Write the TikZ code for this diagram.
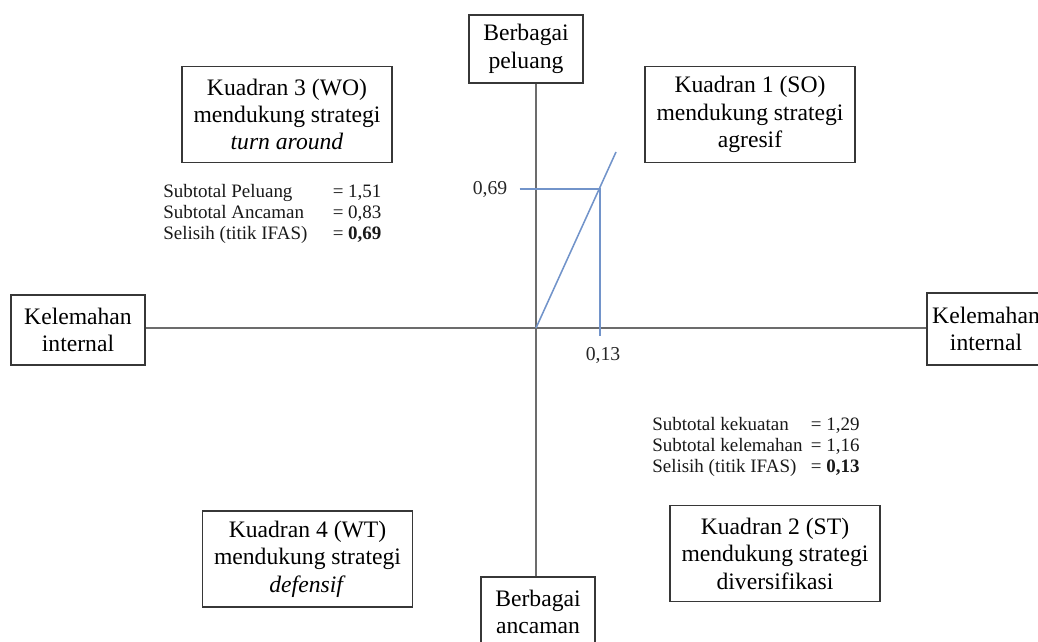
\documentclass[tikz,border=0pt]{standalone}
\usepackage{fontspec}
\setmainfont{Liberation Serif}
\usepackage{tikz}
\usetikzlibrary{positioning}
\definecolor{garisabu}{RGB}{108,108,108}
\definecolor{biru}{RGB}{114,148,202}
\definecolor{tepi}{RGB}{55,55,55}

\tikzset{
  kotak/.style={draw=tepi, line width=1.2pt, align=center, fill=white, inner sep=2pt,
    font=\fontsize{16.8}{19.5}\selectfont},
  kuadran/.style={kotak, minimum width=5.25cm, minimum height=2.4cm},
  sumbu/.style={garisabu, line width=1.9pt},
  garisbiru/.style={biru, line width=1.1pt},
  angka/.style={font=\fontsize{14}{16}\selectfont, text=black!85, inner sep=0pt},
  ringkas/.style={font=\fontsize{13.5}{15}\selectfont, text=black!90, inner sep=0pt, anchor=west}
}

\begin{document}
\begin{tikzpicture}[x=0.025cm,y=-0.025cm]

\useasboundingbox (0,0) rectangle (1038,642);
\clip (0,0) rectangle (1038,642);

\node[kotak, minimum width=2.85cm, minimum height=1.7cm] (peluang) at (526,49) {Berbagai\\peluang};
\node[kotak, minimum width=2.85cm, minimum height=1.75cm] (ancaman) at (538,612) {Berbagai\\ancaman};
\node[kotak, minimum width=3.35cm, minimum height=1.75cm] (kiri) at (78,330) {Kelemahan\\internal};
\node[kotak, minimum width=2.95cm, minimum height=1.8cm] (kanan) at (986,329) {Kelemahan\\internal};

\node[kuadran] (kuadran3) at (287,114.5) {Kuadran 3 (WO)\\mendukung strategi\\\textit{turn around}};
\node[kuadran] (kuadran1) at (750,114.5) {Kuadran 1 (SO)\\mendukung strategi\\agresif};
\node[kuadran] (kuadran4) at (307.5,559) {Kuadran 4 (WT)\\mendukung strategi\\\textit{defensif}};
\node[kuadran] (kuadran2) at (775,553.5) {Kuadran 2 (ST)\\mendukung strategi\\diversifikasi};

\coordinate (pusat) at (536,328);
\draw[sumbu] (peluang.south -| pusat) -- (ancaman.north -| pusat);
\draw[sumbu] (kiri.east |- pusat) -- (kanan.west |- pusat);

\coordinate (ujung) at (616,152);
\coordinate (titik) at (600,189);
\node[angka] (nilaiy) at (490,189) {0,69};
\node[angka] (nilaix) at (603,355) {0,13};
\draw[garisbiru] (pusat) -- (ujung);
\draw[garisbiru] (nilaiy.east) ++(12,0) -- (titik) -- ++(0,147);

\node[ringkas] (ringkaskiri) at (163,214) {\begin{tabular}{@{}l@{\hspace{18pt}}l@{}}
  Subtotal Peluang & = 1,51\\
  Subtotal Ancaman & = 0,83\\
  Selisih (titik IFAS) & = \textbf{0,69}
\end{tabular}};
\node[ringkas] (ringkaskanan) at (652,447) {\begin{tabular}{@{}l@{\hspace{6pt}}l@{}}
  Subtotal kekuatan & = 1,29\\
  Subtotal kelemahan & = 1,16\\
  Selisih (titik IFAS) & = \textbf{0,13}
\end{tabular}};

\end{tikzpicture}
\end{document}
